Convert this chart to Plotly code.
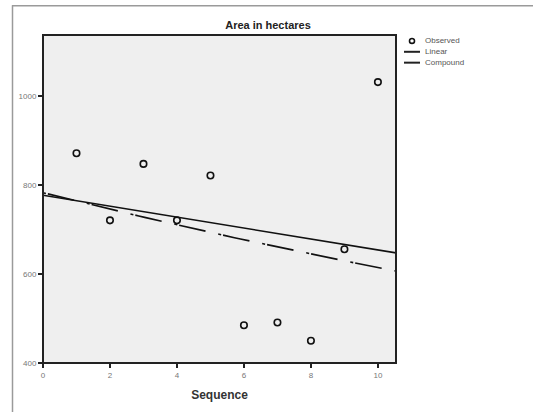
import numpy as np
import plotly.graph_objects as go

sequence = [1, 2, 3, 4, 5, 6, 7, 8, 9, 10]
area = [872, 721, 848, 721, 822, 485, 491, 450, 656, 1032]
x_ticks = [0, 2, 4, 6, 8, 10]
y_ticks = [400, 600, 800, 1000]
legend_names = ["Observed", "Linear", "Compound"]

W, H = 533, 412
L, R, T, B = 43, 396, 35, 367
X_RANGE = [0, 10.54]
Y_RANGE = [400, 1138]

# Curve fits (Linear and Compound) computed from observed data
xs = np.array(sequence, dtype=float)
ys = np.array(area, dtype=float)
lin = np.polyfit(xs, ys, 1)
comp = np.polyfit(xs, np.log(ys), 1)
xf = np.linspace(X_RANGE[0], X_RANGE[1], 60)
y_lin = np.polyval(lin, xf)
y_comp = np.exp(np.polyval(comp, xf))

fig = go.Figure()
fig.add_trace(go.Scatter(x=sequence, y=area, mode="markers", name=legend_names[0],
                         marker=dict(symbol="circle-open", size=6.5, color="#111",
                                     line=dict(width=1.6, color="#111"))))
fig.add_trace(go.Scatter(x=xf, y=y_lin, mode="lines", name=legend_names[1],
                         line=dict(color="#111", width=1.6)))
fig.add_trace(go.Scatter(x=xf, y=y_comp, mode="lines", name=legend_names[2],
                         line=dict(color="#111", width=1.6, dash="3px,2px,27px,13px")))

def px(xp):
    return (xp - L) / (R - L)

def py(yp):
    return (B - yp) / (B - T)

shapes = [
    # outer gray frame
    dict(type="line", xref="paper", yref="paper", x0=px(12), x1=px(540), y0=py(5.5), y1=py(5.5),
         line=dict(color="#9a9a9a", width=1.5)),
    dict(type="line", xref="paper", yref="paper", x0=px(12.5), x1=px(12.5), y0=py(5), y1=py(420),
         line=dict(color="#9a9a9a", width=1.5)),
    # plot frame
    dict(type="rect", xref="paper", yref="paper", x0=0, x1=1, y0=0, y1=1,
         line=dict(color="#222", width=2), layer="above"),
    # legend glyphs
    dict(type="circle", xref="paper", yref="paper", x0=px(409.5), x1=px(414.5),
         y0=py(43.5), y1=py(38.5), line=dict(color="#111", width=1.6)),
    dict(type="line", xref="paper", yref="paper", x0=px(404), x1=px(420),
         y0=py(52), y1=py(52), line=dict(color="#222", width=2)),
    dict(type="line", xref="paper", yref="paper", x0=px(404), x1=px(420),
         y0=py(63), y1=py(63), line=dict(color="#222", width=2)),
]

annotations = []
for i, name in enumerate(legend_names):
    annotations.append(dict(text=name, xref="paper", yref="paper", x=px(423), y=py(41 + 11 * i),
                            xanchor="left", yanchor="middle", showarrow=False,
                            font=dict(size=8, color="#555")))

fig.update_layout(
    width=W, height=H,
    margin=dict(l=L, r=W - R, t=T, b=H - B, pad=0),
    paper_bgcolor="white",
    plot_bgcolor="#efefef",
    font=dict(family="Liberation Sans, Arial, sans-serif", color="#222"),
    title=dict(text="<b>Area in hectares</b>", x=px(268), xref="paper", xanchor="center",
               y=1 - 25 / H, yanchor="middle", font=dict(size=11, color="#222")),
    showlegend=False,
    shapes=shapes,
    annotations=annotations,
    xaxis=dict(range=X_RANGE, tickvals=x_ticks, ticks="outside", ticklen=4, tickwidth=1.5,
               tickcolor="#222", tickfont=dict(size=8, color="#777"), showgrid=False,
               zeroline=False, showline=False,
               title=dict(text="<b>Sequence</b>", font=dict(size=12, color="#333"), standoff=12)),
    yaxis=dict(range=Y_RANGE, tickvals=y_ticks, ticks="outside", ticklen=4, tickwidth=1.5,
               tickcolor="#222", tickfont=dict(size=8, color="#777"), showgrid=False,
               zeroline=False, showline=False),
)

fig.write_html("out.html", config={"displayModeBar": False},
               post_script="document.body.style.margin='0';document.body.style.overflow='hidden';")
